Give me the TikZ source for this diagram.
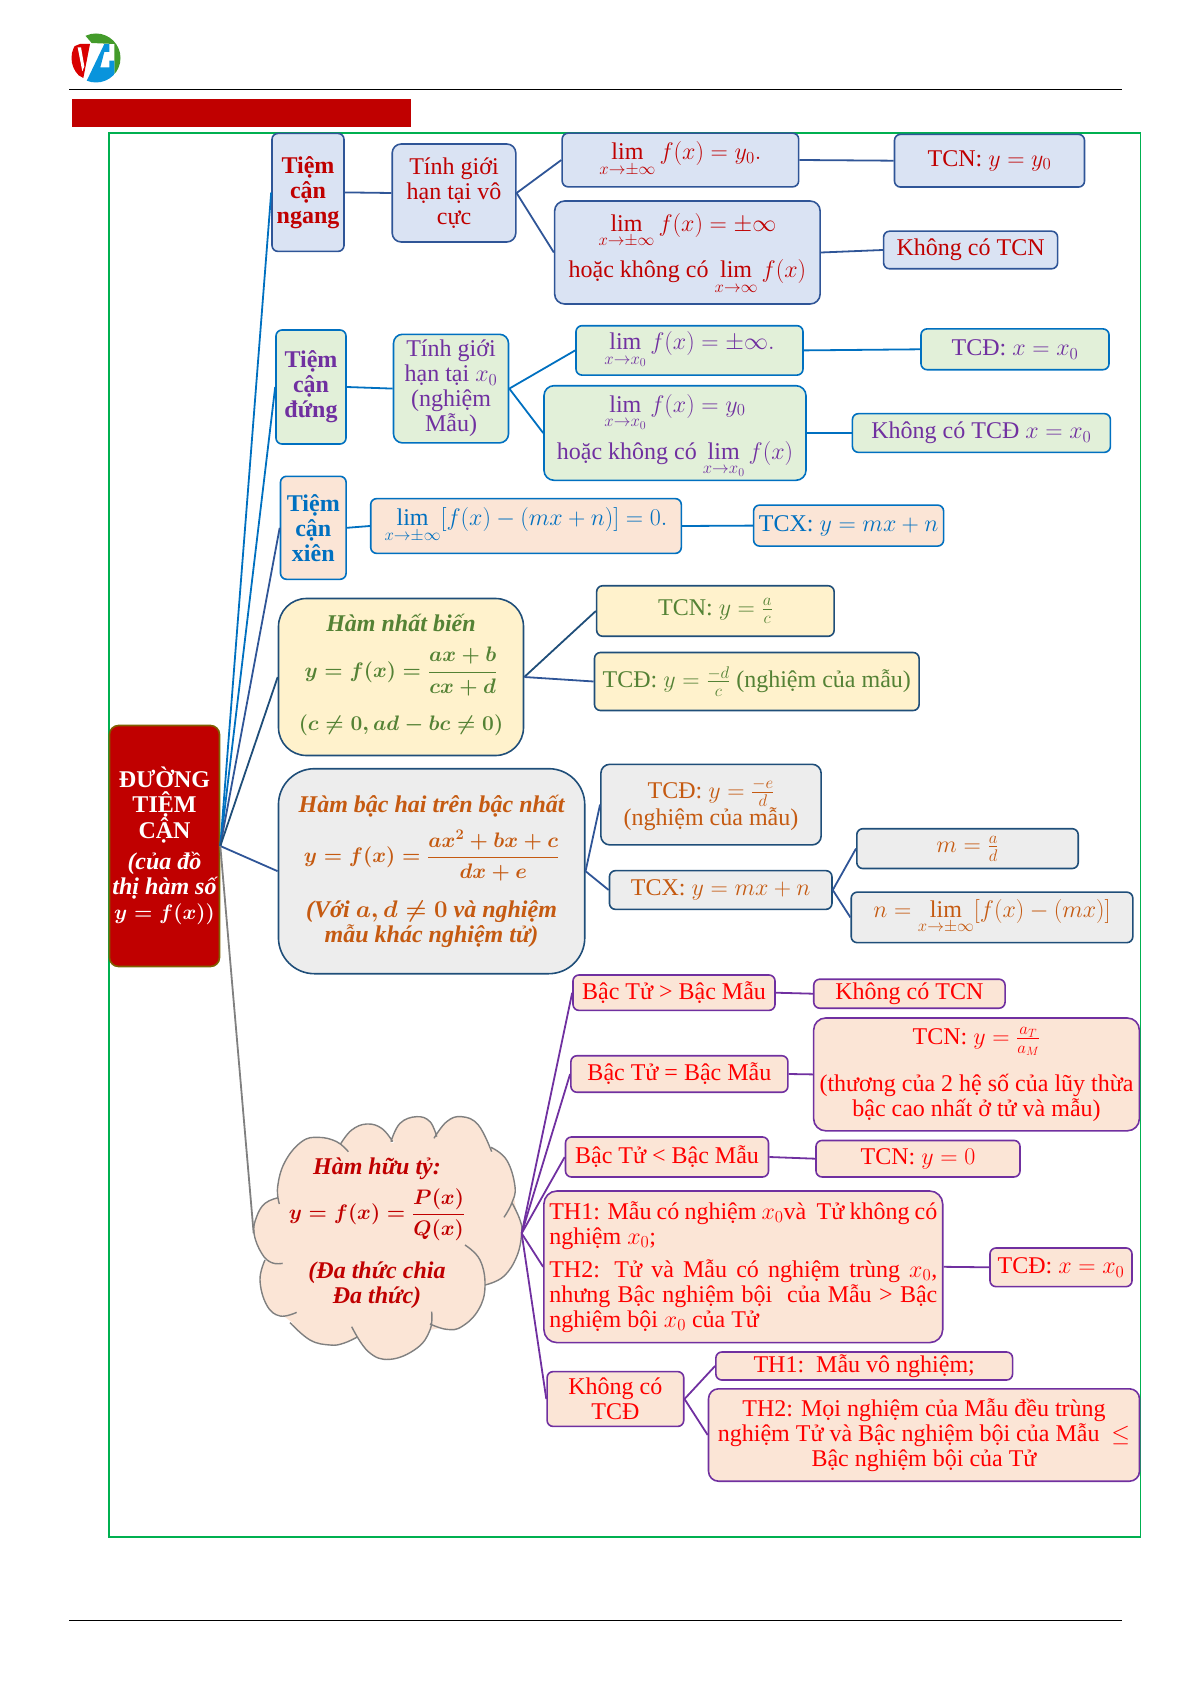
\documentclass[tikz,border=0pt]{standalone}
\usepackage{fix-cm}
\usepackage{amsmath, amssymb}
\usepackage{fontspec}
\setmainfont{Liberation Serif}
\usepackage{tikz}
\definecolor{tcnfill}{HTML}{DAE3F3}
\definecolor{tcdfill}{HTML}{E2F0D9}
\definecolor{peach}{HTML}{FBE5D6}
\definecolor{nbfill}{HTML}{FFF2CC}
\definecolor{bhfill}{HTML}{EDEDED}
\definecolor{darkred}{HTML}{C00000}
\definecolor{navy}{HTML}{1F4E79}
\definecolor{steel}{HTML}{2F5597}
\definecolor{azure}{HTML}{0070C0}
\definecolor{grape}{HTML}{7030A0}
\definecolor{leaf}{HTML}{548235}
\definecolor{rust}{HTML}{C55A11}
\definecolor{framegreen}{HTML}{00B050}
\definecolor{rootline}{HTML}{7F6000}
\newcommand{\eqf}{\fontsize{21}{25}\selectfont}
\def\lobepath{
  plot[smooth,tension=.7] coordinates {(158,490) (125,488) (95,460) (72,400) (80,350) (105,310) (145,293)}
  plot[smooth,tension=.7] coordinates {(148,312) (143,260) (165,185) (215,125) (265,112) (320,125) (355,155)}
  plot[smooth,tension=.7] coordinates {(333,130) (365,90) (410,72) (455,85) (488,125)}
  plot[smooth,tension=.7] coordinates {(483,125) (510,70) (560,50) (600,65) (620,110)}
  plot[smooth,tension=.7] coordinates {(612,115) (650,65) (695,50) (745,75) (785,155)}
  plot[smooth,tension=.7] coordinates {(783,142) (830,180) (855,260) (845,310) (822,352)}
  plot[smooth,tension=.7] coordinates {(847,310) (870,360) (875,400) (860,470) (820,530) (765,555)}
  plot[smooth,tension=.7] coordinates {(705,435) (750,480) (765,560) (745,630) (695,680) (650,688) (600,672)}
  plot[smooth,tension=.7] coordinates {(605,635) (600,690) (560,745) (480,778) (415,755) (365,680)}
  plot[smooth,tension=.7] coordinates {(380,712) (340,730) (300,735) (240,720) (180,668)}
  plot[smooth,tension=.7] coordinates {(200,637) (150,648) (110,615) (90,540) (105,480)}
}
\begin{document}
\begin{tikzpicture}[x=1pt,y=-1pt,
  basenode/.style={draw,rounded corners=6pt,line width=1.6pt,align=center,inner sep=0pt,font=\fontsize{24}{25}\selectfont},
  wh/.style 2 args={minimum width=#1,minimum height=#2},
  tcnbox/.style={basenode,fill=tcnfill,draw=steel,text=darkred},
  tcdbox/.style={basenode,fill=tcdfill,draw=azure,text=grape},
  tcxbox/.style={basenode,fill=peach,draw=azure,text=azure},
  nbbox/.style={basenode,fill=nbfill,draw=navy,text=leaf},
  bhbox/.style={basenode,fill=bhfill,draw=navy,text=rust},
  rtbox/.style={basenode,fill=peach,draw=grape,text=red},
  headbox/.style={font=\fontsize{24}{25}\selectfont\bfseries\boldmath},
  link/.style={line width=1.8pt}]
  \useasboundingbox (0,0) rectangle (1192,1685);

  \begin{scope}
    \clip (96,58) circle (24.5);
    \fill[white] (70,30) rectangle (122,86);
    \begin{scope}[shift={(65,28)},scale=1/3]
      \fill[leaf!80!green] (50,10) -- (170,10) -- (170,150) -- (148,150) -- (148,48) -- (80,45) -- cycle;
      \fill[red!85!black] (15,60) -- (45,48) -- (75,48) -- (55,150) -- (20,130) -- cycle;
      \fill[white] (38,58) -- (48,58) -- (58,115) -- (52,130) -- cycle;
      \fill[cyan!80!blue] (118,48) -- (133,48) -- (133,72) -- (118,72) -- (106,118) -- (133,118) -- (133,98) -- (148,98) -- (148,165) -- (62,165) -- cycle;
    \end{scope}
  \end{scope}
  \draw[line width=1pt] (69,89.5) -- (1122,89.5);
  \draw[line width=1pt] (69,1620) -- (1122,1620);
  \fill[darkred] (72,99.5) rectangle (411,127);
  \draw[framegreen,line width=1.8pt] (108.6,133.3) rectangle (1140.5,1537);

  \node[basenode,fill=darkred,draw=rootline,text=white,font=\fontsize{24}{25}\selectfont\bfseries\boldmath,wh={110}{241},rounded corners=9pt] (root) at (164.5,846) {ĐƯỜNG\\TIỆM\\CẬN\\[6pt]\itshape (của đồ\\\itshape thị hàm số\\{\eqf $y=f(x))$}};

  \node[tcnbox,headbox,wh={72}{118}] (ngang) at (308,192.4) {Tiệm\\cận\\ngang};
  \node[tcnbox,wh={123.6}{98},rounded corners=9pt] (ngangcalc) at (454,193) {Tính giới\\hạn tại vô\\cực};
  \node[tcnbox,wh={236.5}{53.7}] (nganglim) at (680.4,160) {$\lim\limits_{x\to\pm\infty} f(x)=y_0.$};
  \node[tcnbox,wh={265.5}{103},rounded corners=10pt] (ngangno) at (687.4,252.5) {\rule{0pt}{21pt}$\lim\limits_{x\to\pm\infty} f(x)=\pm\infty$\\[9pt]hoặc không có $\lim\limits_{x\to\infty} f(x)$};
  \node[tcnbox,wh={190}{52.7}] (ngangres) at (989.5,160.7) {TCN: $y=y_0$};
  \node[tcnbox,wh={174}{37.6}] (ngangnores) at (970.6,250) {Không có TCN};

  \node[tcdbox,headbox,wh={70}{114}] (dung) at (311,387) {Tiệm\\cận\\đứng};
  \node[tcdbox,wh={115}{108.6},rounded corners=9pt] (dungcalc) at (451,388.6) {Tính giới\\hạn tại $x_0$\\(nghiệm\\Mẫu)};
  \node[tcdbox,wh={227}{49.4}] (dunglim) at (689.5,350.4) {$\lim\limits_{x\to x_0} f(x)=\pm\infty.$};
  \node[tcdbox,wh={262}{94.6},rounded corners=10pt] (dungno) at (675,433) {\rule{0pt}{25pt}$\lim\limits_{x\to x_0} f(x)=y_0$\\[9pt]hoặc không có $\lim\limits_{x\to x_0} f(x)$};
  \node[tcdbox,wh={188}{40.8}] (dungres) at (1015,349.3) {TCĐ: $x=x_0$};
  \node[tcdbox,wh={258}{38.7}] (dungnores) at (981.4,433) {Không có TCĐ $x=x_0$};

  \node[tcxbox,headbox,wh={65.6}{103}] (xien) at (313.3,527.8) {Tiệm\\cận\\xiên};
  \node[tcxbox,wh={310.6}{54.8}] (xienlim) at (526,526) {$\lim\limits_{x\to\pm\infty}[f(x)-(mx+n)]=0.$};
  \node[tcxbox,wh={190}{41}] (xienres) at (848.6,525.6) {TCX: $y=mx+n$};

  \node[nbbox,wh={245}{157},rounded corners=28pt,font=\fontsize{24}{25}\selectfont\bfseries\boldmath] (nhatbien) at (401,677) {\itshape Hàm nhất biến\\[14pt]{\eqf $\displaystyle y=f(x)=\frac{ax+b}{cx+d}$}\\[18pt]{\eqf $(c\neq 0,ad-bc\neq 0)$}\\[-16pt]\mbox{}};
  \node[nbbox,wh={237.5}{50.5}] (nbtcn) at (715.4,611) {TCN: $y=\frac{a}{c}$};
  \node[nbbox,wh={324.6}{58}] (nbtcd) at (756.8,681.5) {TCĐ: $y=\frac{-d}{c}$ (nghiệm của mẫu)};

  \node[bhbox,wh={306.3}{205},rounded corners=36pt,font=\fontsize{24}{25}\selectfont\bfseries\boldmath] (bachai) at (431.6,871.2) {\itshape Hàm bậc hai trên bậc nhất\\[12pt]{\eqf $\displaystyle y=f(x)=\frac{ax^2+bx+c}{dx+e}$}\\[18pt]\itshape (Với $a,d\neq 0$ và nghiệm\\\itshape mẫu khác nghiệm tử)};
  \node[bhbox,wh={220.3}{80.6},rounded corners=9pt] (bhtcd) at (711,804.6) {TCĐ: $y=\frac{-e}{d}$\\(nghiệm của mẫu)};
  \node[bhbox,wh={222.5}{38.7}] (bhtcx) at (720.7,890) {TCX: $y=mx+n$};
  \node[bhbox,wh={221.4}{39.8}] (bhm) at (967.5,848.6) {$m=\frac{a}{d}$};
  \node[bhbox,wh={281.6}{50.5}] (bhn) at (992,917.4) {$n=\lim\limits_{x\to\pm\infty}[f(x)-(mx)]$};

  \begin{scope}[shift={(230,1100)},scale=1/3]
    \fill[peach] (90,400) -- (120,320) -- (160,290) -- (165,185) -- (215,130) -- (265,118) -- (340,130) -- (410,80) -- (488,130) -- (560,60) -- (620,115) -- (695,60) -- (780,150) -- (848,260) -- (868,400) -- (820,525) -- (760,560) -- (735,640) -- (650,680) -- (600,690) -- (480,770) -- (380,712) -- (300,728) -- (190,670) -- (110,610) -- (96,540) -- (110,480) -- cycle;
    \fill[peach] \lobepath;
    \draw[black!50,line width=1.4pt] \lobepath;
    \coordinate (cloudleft) at (71,400);
    \coordinate (cloudright) at (875,400);
  \end{scope}
  \node[align=center,text=darkred,font=\fontsize{24}{25}\selectfont\bfseries\boldmath,inner sep=0pt] (huuty) at (377,1233) {\itshape Hàm hữu tỷ:\\[8pt]{\eqf $\displaystyle y=f(x)=\frac{P(x)}{Q(x)}$}\\[20pt]\itshape (Đa thức chia\\\itshape Đa thức)};

  \node[rtbox,wh={202}{35.4}] (bacgt) at (674,992.7) {Bậc Tử > Bậc Mẫu};
  \node[rtbox,wh={191.3}{29}] (bacgtres) at (909.4,993.7) {Không có TCN};
  \node[rtbox,wh={217}{36.5}] (baceq) at (679.4,1074) {Bậc Tử = Bậc Mẫu};
  \node[rtbox,wh={325.7}{112.8},rounded corners=12pt] (baceqres) at (976.5,1074.4) {TCN: $y=\frac{a_T}{a_M}$\\[17pt](thương của 2 hệ số của lũy thừa\\bậc cao nhất ở tử và mẫu)};
  \node[rtbox,wh={203}{40}] (baclt) at (667,1157) {Bậc Tử < Bậc Mẫu};
  \node[rtbox,wh={204}{36.5}] (bacltres) at (918,1158.7) {TCN: $y=0$};
  \node[rtbox,wh={398.8}{151.6},rounded corners=13pt,text width=388pt,align=justify] (thcase) at (743.3,1266.8) {TH1: Mẫu có nghiệm $x_0$và\ \ Tử không có nghiệm $x_0$;\\[8pt]TH2: Tử và Mẫu có nghiệm trùng $x_0$, nhưng Bậc nghiệm bội\ \ của Mẫu > Bậc nghiệm bội $x_0$ của Tử};
  \node[rtbox,wh={142}{38.7}] (thres) at (1061,1267.3) {TCĐ: $x=x_0$};
  \node[rtbox,wh={136.6}{54.8}] (khong) at (615.4,1399) {Không có\\TCĐ};
  \node[rtbox,wh={296.7}{28}] (khongone) at (864.2,1366) {TH1:\ \ Mẫu vô nghiệm;};
  \node[rtbox,wh={431}{92.4},rounded corners=10pt] (khongtwo) at (924,1435) {TH2: Mọi nghiệm của Mẫu đều trùng\\nghiệm Tử và Bậc nghiệm bội của Mẫu\ \ $\leq$\\Bậc nghiệm bội của Tử};

  \draw[link,azure] (root.east) -- (ngang.west);
  \draw[link,azure] (root.east) -- (dung.west);
  \draw[link,steel] (root.east) -- (xien.west);
  \draw[link,navy] (root.east) -- (nhatbien.west);
  \draw[link,steel] (root.east) -- (bachai.west);
  \draw[link,black!50] (root.east) -- (cloudleft);

  \draw[link,steel] (ngang.east) -- (ngangcalc.west);
  \draw[link,steel] (ngangcalc.east) -- (nganglim.west);
  \draw[link,steel] (ngangcalc.east) -- (ngangno.west);
  \draw[link,steel] (nganglim.east) -- (ngangres.west);
  \draw[link,steel] (ngangno.east) -- (ngangnores.west);

  \draw[link,azure] (dung.east) -- (dungcalc.west);
  \draw[link,azure] (dungcalc.east) -- (dunglim.west);
  \draw[link,azure] (dungcalc.east) -- (dungno.west);
  \draw[link,azure] (dunglim.east) -- (dungres.west);
  \draw[link,azure] (dungno.east) -- (dungnores.west);

  \draw[link,azure] (xien.east) -- (xienlim.west);
  \draw[link,azure] (xienlim.east) -- (xienres.west);

  \draw[link,navy] (nhatbien.east) -- (nbtcn.west);
  \draw[link,steel] (nhatbien.east) -- (nbtcd.west);

  \draw[link,steel] (bachai.east) -- (bhtcd.west);
  \draw[link,steel] (bachai.east) -- (bhtcx.west);
  \draw[link,steel] (bhtcx.east) -- (bhm.west);
  \draw[link,steel] (bhtcx.east) -- (bhn.west);

  \draw[link,grape] (cloudright) -- (bacgt.west);
  \draw[link,grape] (cloudright) -- (baceq.west);
  \draw[link,grape] (cloudright) -- (baclt.west);
  \draw[link,grape] (cloudright) -- (thcase.west);
  \draw[link,grape] (cloudright) -- (khong.west);
  \draw[link,grape] (bacgt.east) -- (bacgtres.west);
  \draw[link,grape] (baceq.east) -- (baceqres.west);
  \draw[link,grape] (baclt.east) -- (bacltres.west);
  \draw[link,grape] (thcase.east) -- (thres.west);
  \draw[link,grape] (khong.east) -- (khongone.west);
  \draw[link,grape] (khong.east) -- (khongtwo.west);
\end{tikzpicture}
\end{document}
